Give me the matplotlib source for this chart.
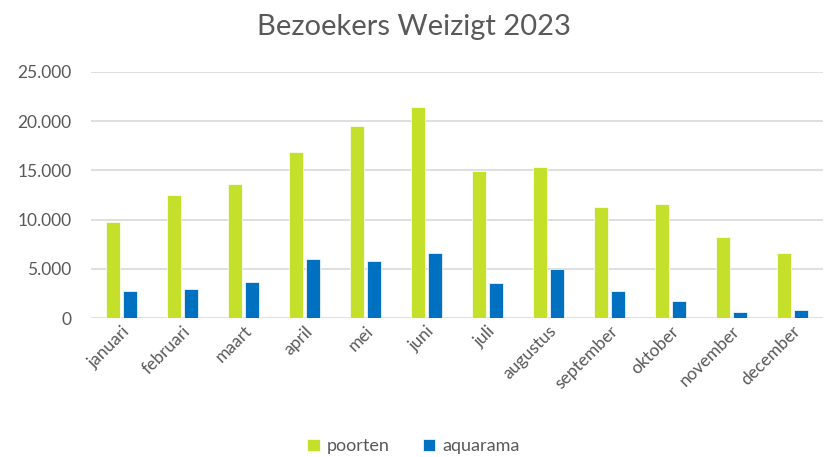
import matplotlib
matplotlib.use('Agg')
from matplotlib import pyplot as plt
from matplotlib.ticker import FuncFormatter
import numpy as np

maanden = ['januari', 'februari', 'maart', 'april', 'mei', 'juni', 'juli',
           'augustus', 'september', 'oktober', 'november', 'december']
poorten = [9750, 12550, 13650, 16900, 19550, 21450, 14900, 15300, 11300, 11550, 8200, 6650]
aquarama = [2750, 2950, 3650, 6050, 5750, 6650, 3550, 4950, 2750, 1750, 650, 800]

plt.rcParams['font.family'] = ['Lato', 'DejaVu Sans']
grey = '#595959'

fig = plt.figure(figsize=(8.27, 4.57), dpi=100)
ax = fig.add_axes([0.110, 0.304, 0.885, 0.5385])

x = np.arange(len(maanden))
w = 0.23
ax.bar(x - 0.14, poorten, w, color='#C5E02A', edgecolor='white', linewidth=0.5, label='poorten', zorder=3)
ax.bar(x + 0.14, aquarama, w, color='#0070C0', edgecolor='white', linewidth=0.5, label='aquarama', zorder=3)

ax.set_xlim(-0.5, len(maanden) - 0.5)
ax.set_ylim(0, 25000)
ax.set_yticks(range(0, 25001, 5000))
ax.yaxis.set_major_formatter(FuncFormatter(lambda v, p: f'{int(v):,}'.replace(',', '.')))
ax.grid(axis='y', color='#D9D9D9', linewidth=1.2, zorder=0)
for s in ax.spines.values():
    s.set_visible(False)
ax.tick_params(axis='both', length=0, labelsize=12.5, labelcolor=grey)
ax.tick_params(axis='y', pad=14)
ax.set_xticks(x)
ax.set_xticklabels(maanden, rotation=45, ha='right', rotation_mode='anchor')

fig.suptitle('Bezoekers Weizigt 2023', y=0.97, fontsize=21, color=grey)
fig.legend(loc='lower center', bbox_to_anchor=(0.5, -0.03), ncol=2, frameon=False,
           fontsize=13, labelcolor=grey, handlelength=0.7, handleheight=0.7,
           handletextpad=0.4, columnspacing=1.8)

plt.savefig('out.png', dpi=100)
